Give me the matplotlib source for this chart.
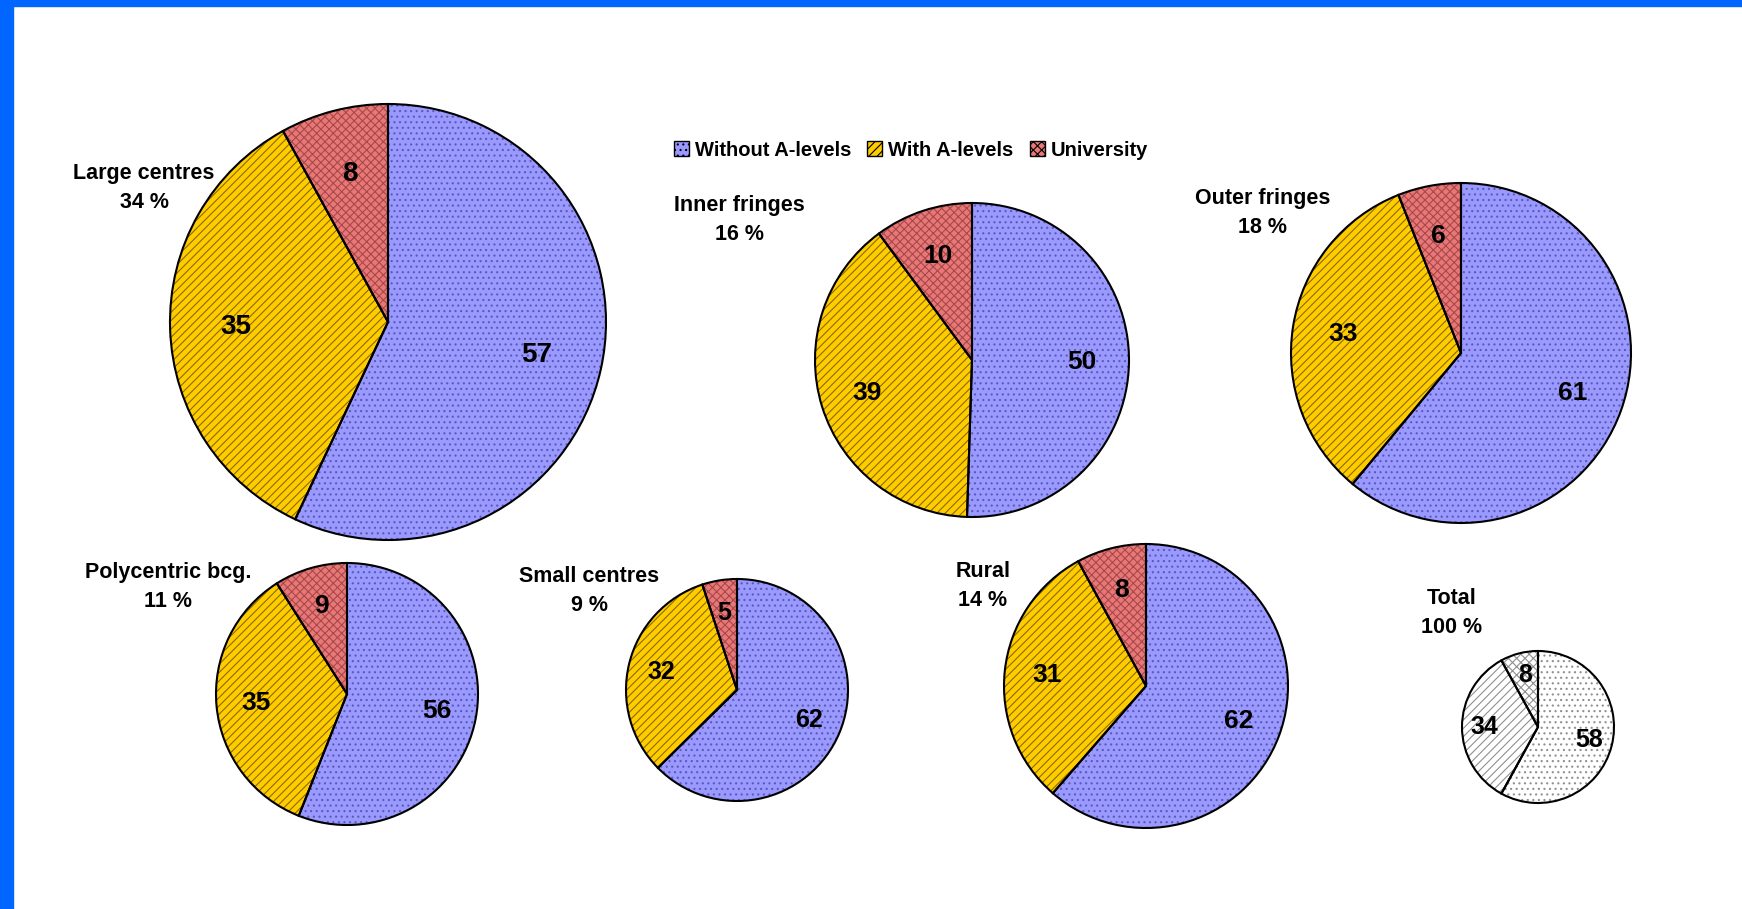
import matplotlib.pyplot as plt
from matplotlib.patches import Rectangle
import numpy as np

plt.rcParams['font.family'] = ['Liberation Sans', 'DejaVu Sans']
plt.rcParams['hatch.linewidth'] = 0.8

# data
regions = ["Large centres", "Inner fringes", "Outer fringes", "Polycentric bcg.",
           "Small centres", "Rural", "Total"]
shares = [34, 16, 18, 11, 9, 14, 100]
without_alevels = [57, 50, 61, 56, 62, 62, 58]
with_alevels = [35, 39, 33, 35, 32, 31, 34]
university = [8, 10, 6, 9, 5, 8, 8]
legend_labels = ["Without A-levels", "With A-levels", "University"]

# layout in pixels of the 1742x909 canvas (y measured from top)
W, H = 1742, 909
centres = [(388, 322), (972, 360), (1461, 353), (347, 694), (737, 690), (1146, 686), (1538, 727)]
radii = [218, 157, 170, 131, 111, 142, 76]
title_pos = [(144, 188), (739, 220), (1263, 213), (168, 587), (589, 591), (983, 586), (1452, 613)]
value_size = [20, 19, 19, 19, 18, 19, 18]

colours = ['#9999ff', '#ffcc00', '#e87878']
hatch_cols = ['#5a5ab4', '#8a6a00', '#a84848']
hatches = ['...', '////', 'xxxx']
grey_cols = ['white', 'white', 'white']
grey_hatch = ['#909090', '#909090', '#909090']

fig = plt.figure(figsize=(W / 100, H / 100), dpi=100)
ax = fig.add_axes([0, 0, 1, 1])

for i in range(len(regions)):
    vals = [without_alevels[i], with_alevels[i], university[i]]
    cx, cy = centres[i][0], H - centres[i][1]
    r = radii[i]
    total = regions[i] == "Total"
    fc = grey_cols if total else colours
    hc = grey_hatch if total else hatch_cols

    # fill + hatch layer (edge colour only drives the hatch colour)
    wedges, _ = ax.pie(vals, center=(cx, cy), radius=r, startangle=90, counterclock=False,
                       colors=fc, wedgeprops=dict(linewidth=0))
    for w, h, c in zip(wedges, hatches, hc):
        w.set_hatch(h)
        w.set_edgecolor(c)
        w.set_linewidth(0)

    # outline layer with the numbers
    ax.pie(vals, center=(cx, cy), radius=r, startangle=90, counterclock=False,
           colors=['none'] * 3, labels=[str(v) for v in vals], labeldistance=0.7,
           wedgeprops=dict(linewidth=1.5, edgecolor='black'),
           textprops=dict(fontsize=value_size[i], fontweight='bold'))
    for t in ax.texts[-3:]:
        t.set_ha('center')
        t.set_va('center')

    tx, ty = title_pos[i]
    ax.text(tx, H - ty, f"{regions[i]}\n{shares[i]} %", ha='center', va='center',
            fontsize=15.5, fontweight='bold', linespacing=1.5)

ax.set_xlim(0, W)
ax.set_ylim(0, H)
ax.set_aspect('equal')
ax.set_axis_off()

handles = [Rectangle((0, 0), 1, 1, facecolor=c, edgecolor='black', hatch=h, linewidth=1)
           for c, h in zip(colours, hatches)]
fig.legend(handles, legend_labels, loc='center', bbox_to_anchor=(911 / W, 1 - 150 / H),
           ncol=3, frameon=False, handlelength=0.75, handleheight=0.75, handletextpad=0.3,
           columnspacing=0.8, prop=dict(size=14.5, weight='bold'))

# blue frame on the left and top
fig.add_artist(Rectangle((0, 0), 13 / W, 1, transform=fig.transFigure, color='#0066ff', zorder=10))
fig.add_artist(Rectangle((0, 1 - 6 / H), 1, 6 / H, transform=fig.transFigure, color='#0066ff', zorder=10))

fig.savefig('out.png', dpi=100)
